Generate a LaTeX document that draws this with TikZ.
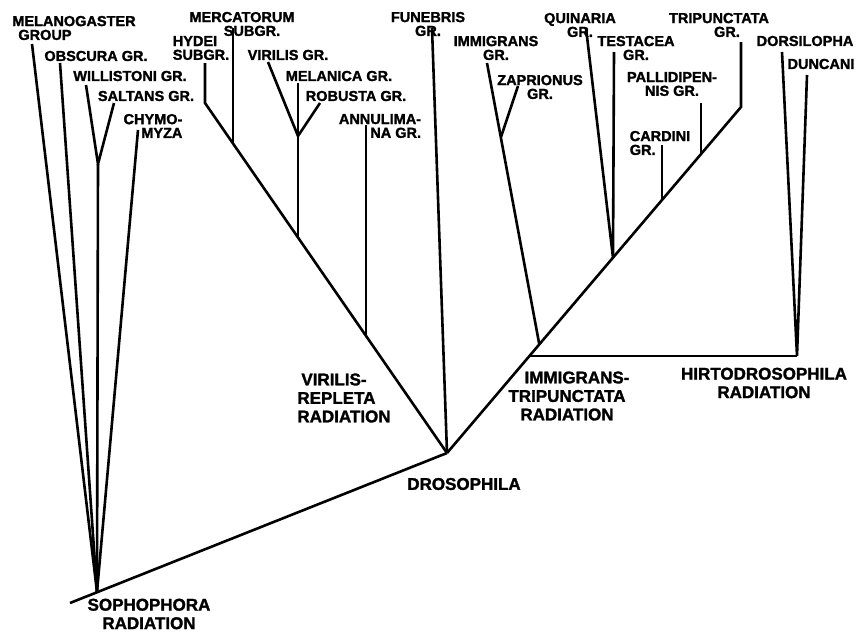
\documentclass[tikz,border=0pt]{standalone}
\usepackage{fontspec}
\setmainfont{Liberation Sans}
\newfontfamily\heavy{Liberation Sans Bold}[FakeBold=1.6]
\usetikzlibrary{positioning}

\begin{document}
\begin{tikzpicture}[x=1pt, y=-1pt,
    grp/.style={font=\fontsize{14.5}{13.8}\selectfont\heavy, inner sep=0pt, align=center},
    rad/.style={font=\fontsize{17}{18.5}\selectfont\heavy, inner sep=0pt, align=center},
    branch/.style={line width=2.6pt, line join=miter, line cap=butt}]
    \useasboundingbox (0,0) rectangle (856,632);

    % junctions
    \coordinate (sbase) at (70,603);
    \coordinate (sroot) at (97,592);
    \coordinate (droot) at (447,453);
    \coordinate (fwil) at (98,164);
    \coordinate (khyd) at (205,103);
    \coordinate (jmerc) at (233,143.5);
    \coordinate (fvir) at (298,136);
    \coordinate (jvir) at (298,237.5);
    \coordinate (jann) at (366,335.8);
    \coordinate (ktri) at (741,107);
    \coordinate (jpal) at (701,154);
    \coordinate (jcar) at (662,200);
    \coordinate (jqt) at (613,257.6);
    \coordinate (fzap) at (501,137);
    \coordinate (jimm) at (539.3,344.4);
    \coordinate (jhir) at (529.4,356);
    \coordinate (khir) at (797,356);

    % tips
    \coordinate (tmel) at (32,44);
    \coordinate (tobs) at (60,63);
    \coordinate (twil) at (86,85);
    \coordinate (tsal) at (114,103);
    \coordinate (tchy) at (138,130);
    \coordinate (thyd) at (205,63);
    \coordinate (tmerc) at (233,28);
    \coordinate (tvir) at (268,62);
    \coordinate (tmela) at (298,83);
    \coordinate (trob) at (320,103);
    \coordinate (tann) at (366,125);
    \coordinate (tfun) at (432,28);
    \coordinate (timm) at (487,63);
    \coordinate (tzap) at (518,86);
    \coordinate (tqui) at (586,28);
    \coordinate (ttes) at (614,52);
    \coordinate (tpal) at (701,103);
    \coordinate (tcar) at (662,145);
    \coordinate (ttri) at (741,42);
    \coordinate (tdor) at (782,52);
    \coordinate (tdun) at (807,75);

    % labels
    \node[grp, align=left] (mel) at (74,28) {MELANOGASTER\\\hspace{6pt}GROUP};
    \node[grp] (obs) at (96,56) {OBSCURA GR.};
    \node[grp] (wil) at (130,76) {WILLISTONI GR.};
    \node[grp] (sal) at (146,96) {SALTANS GR.};
    \node[grp, align=right] (chy) at (153,126) {CHYMO-\\MYZA};
    \node[grp] (merc) at (242,24) {MERCATORUM\\\hspace{20pt}SUBGR.};
    \node[grp, align=left] (hyd) at (201,48) {HYDEI\\SUBGR.};
    \node[grp] (vir) at (288,55) {VIRILIS GR.};
    \node[grp] (mela) at (339,76) {MELANICA GR.};
    \node[grp] (rob) at (356,96) {ROBUSTA GR.};
    \node[grp, align=right] (ann) at (380,126) {ANNULIMA-\\NA GR.};
    \node[grp] (fun) at (428,24) {FUNEBRIS\\GR.\hspace{22pt}};
    \node[grp] (imm) at (496,48) {IMMIGRANS\\GR.\hspace{16pt}};
    \node[grp] (zap) at (540,87) {ZAPRIONUS\\GR.};
    \node[grp] (qui) at (580,25) {QUINARIA\\GR.\hspace{24pt}};
    \node[grp] (tes) at (636,48) {TESTACEA\\GR.};
    \node[grp] (pal) at (672,84) {PALLIDIPEN-\\NIS GR.};
    \node[grp, align=left] (car) at (660,143) {CARDINI\\GR.};
    \node[grp] (tri) at (719,25) {TRIPUNCTATA\\\hspace{16pt}GR.};
    \node[grp] (dor) at (805,41) {DORSILOPHA};
    \node[grp] (dun) at (821,64) {DUNCANI};
    \node[rad, align=left] (vrr) at (344,398) {\hspace{4pt}VIRILIS-\\REPLETA\\RADIATION};
    \node[rad] (dro) at (464,484) {DROSOPHILA};
    \node[rad] (itr) at (567,396) {\hspace{20pt}IMMIGRANS-\\TRIPUNCTATA\\RADIATION};
    \node[rad] (hir) at (764,383) {HIRTODROSOPHILA\\RADIATION};
    \node[rad] (sop) at (149,614) {SOPHOPHORA\\RADIATION};

    % sophophora radiation
    \draw[branch] (sbase) -- (droot);
    \draw[branch] (tmel) -- (sroot);
    \draw[branch] (tobs) -- (sroot);
    \draw[branch] (twil) -- (fwil) -- (tsal);
    \draw[branch] (fwil) -- (sroot);
    \draw[branch] (tchy) -- (sroot);

    % virilis-repleta radiation
    \draw[branch] (droot) -- (khyd) -- (thyd);
    \draw[branch] (jmerc) -- (tmerc);
    \draw[branch] (tvir) -- (fvir) -- (trob);
    \draw[branch] (tmela) -- (jvir);
    \draw[branch] (jann) -- (tann);
    \draw[branch] (droot) -- (tfun);

    % immigrans-tripunctata radiation
    \draw[branch] (droot) -- (ktri) -- (ttri);
    \draw[branch] (jpal) -- (tpal);
    \draw[branch] (jcar) -- (tcar);
    \draw[branch] (tqui) -- (jqt) -- (ttes);
    \draw[branch] (jimm) -- (timm);
    \draw[branch] (fzap) -- (tzap);

    % hirtodrosophila radiation
    \draw[branch] (jhir) -- (khir);
    \draw[branch] (tdor) -- (khir) -- (tdun);
\end{tikzpicture}
\end{document}
